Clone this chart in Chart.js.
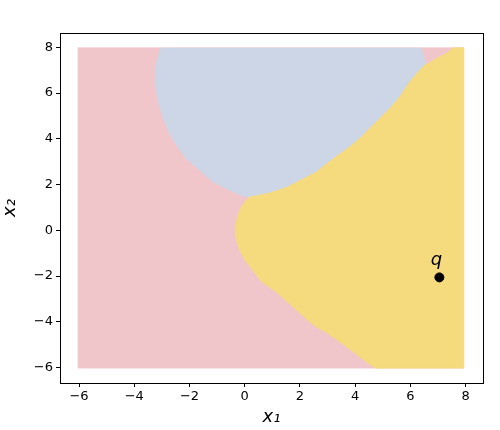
<!DOCTYPE html>
<html lang="en">
<head>
    <meta charset="UTF-8">
    <title>Decision regions</title>
    <script src="https://cdn.jsdelivr.net/npm/chart.js"></script>
    <style>
        body { margin: 0; background: #fff; }
        #box { width: 500px; height: 430px; }
    </style>
</head>
<body>
    <div id="box"><canvas id="myChart"></canvas></div>

<script>
    // dados (coordenadas x1, x2)
    var gridX = [-6.05, 7.93, 7.93, -6.05];
    var gridY = [-6.03, -6.03, 7.99, 7.99];

    var blueX = [-3.05, -3.21, -3.25, -3.15, -2.97, -2.73, -2.43, -2.12, -1.64, -1.16, -0.55, -0.07, 0.17,
        0.53, 0.89, 1.50, 1.98, 2.59, 3.19, 3.79, 4.22, 4.76, 5.24, 5.61, 5.97, 6.33, 6.57, 6.39];
    var blueY = [7.99, 7.29, 6.42, 5.69, 4.96, 4.23, 3.64, 3.14, 2.63, 2.12, 1.75, 1.49, 1.46,
        1.54, 1.63, 1.87, 2.17, 2.55, 3.12, 3.64, 4.08, 4.74, 5.32, 5.83, 6.49, 7.00, 7.29, 7.99];

    var yellowX = [0.17, 0.53, 0.89, 1.50, 1.98, 2.59, 3.19, 3.79, 4.22, 4.76, 5.24, 5.61, 5.97, 6.33, 6.57,
        6.63, 6.93, 7.30, 7.54, 7.93, 7.93, 4.76, 4.58, 4.09, 3.61, 3.01, 2.59, 2.28, 1.68, 1.14, 0.59, 0.47,
        0.17, 0.05, -0.13, -0.25, -0.34, -0.34, -0.25, -0.13, 0.05];
    var yellowY = [1.46, 1.54, 1.63, 1.87, 2.17, 2.55, 3.12, 3.64, 4.08, 4.74, 5.32, 5.83, 6.49, 7.00, 7.29,
        7.29, 7.51, 7.73, 7.99, 7.99, -6.03, -6.03, -5.91, -5.47, -5.03, -4.52, -4.23, -3.94, -3.28, -2.70, -2.23, -2.04,
        -1.55, -1.39, -1.02, -0.66, -0.22, 0.22, 0.66, 1.02, 1.31];

    var queryX = [7.05];
    var queryY = [-2.06];
    var queryLabel = ['q'];

    var tickValues = [-6, -4, -2, 0, 2, 4, 6, 8];

    function pontos(xs, ys) {
        var lista = [];
        for (var i = 0; i < xs.length; i++) {
            lista.push({ x: xs[i], y: ys[i] });
        }
        return lista;
    }

    // order maior = desenhado primeiro (fica por baixo)
    function regiao(xs, ys, cor, ordem) {
        return {
            type: 'line',
            data: pontos(xs, ys),
            showLine: true,
            fill: 'shape',
            backgroundColor: cor,
            borderColor: cor,
            borderWidth: 0.5,
            pointRadius: 0,
            tension: 0,
            order: ordem
        };
    }

    // moldura completa e rotulo do ponto q
    var molduraPlugin = {
        id: 'moldura',
        afterDatasetsDraw: function (chart) {
            var ctx = chart.ctx;
            var a = chart.chartArea;
            var sx = chart.scales.x, sy = chart.scales.y;
            ctx.save();
            ctx.font = 'italic 18px "DejaVu Sans"';
            ctx.fillStyle = 'black';
            ctx.textAlign = 'center';
            ctx.textBaseline = 'alphabetic';
            for (var i = 0; i < queryX.length; i++) {
                ctx.fillText(queryLabel[i], sx.getPixelForValue(queryX[i]) - 3, sy.getPixelForValue(queryY[i]) - 12);
            }
            ctx.strokeStyle = 'black';
            ctx.lineWidth = 1;
            ctx.strokeRect(Math.round(a.left) + 0.5, Math.round(a.top) + 0.5,
                Math.round(a.right - a.left), Math.round(a.bottom - a.top));
            ctx.restore();
        }
    };

    var fonteTicks = { family: '"DejaVu Sans"', size: 13 };

    var ctx = myChart.getContext('2d');
    window.myChart = new Chart(ctx, {
        type: 'scatter',
        data: {
            datasets: [
                regiao(gridX, gridY, 'rgb(240, 198, 203)', 4),
                regiao(blueX, blueY, 'rgb(205, 214, 230)', 3),
                regiao(yellowX, yellowY, 'rgb(245, 219, 125)', 2),
                {
                    type: 'scatter',
                    data: pontos(queryX, queryY),
                    backgroundColor: 'black',
                    borderColor: 'black',
                    pointRadius: 4.5,
                    order: 1
                }
            ]
        },
        options: {
            responsive: true,
            maintainAspectRatio: false,
            animation: false,
            layout: { padding: { top: 33, right: 17, left: 0, bottom: 0 } },
            plugins: {
                legend: { display: false },
                tooltip: { enabled: false }
            },
            scales: {
                x: {
                    type: 'linear',
                    min: -6.69,
                    max: 8.63,
                    afterFit: function (scale) { scale.height = 47; },
                    afterBuildTicks: function (scale) {
                        scale.ticks = tickValues.map(function (v) { return { value: v }; });
                    },
                    ticks: {
                        color: 'black',
                        font: fonteTicks,
                        padding: 2,
                        maxRotation: 0,
                        callback: function (v) { return String(v).replace('-', '\u2212'); }
                    },
                    grid: { drawOnChartArea: false, tickLength: 4, tickColor: 'black' },
                    border: { color: 'black', width: 1 },
                    title: {
                        display: true,
                        text: 'x\u2081',
                        color: 'black',
                        font: { family: '"DejaVu Sans"', size: 18, style: 'italic' },
                        padding: { top: 0, bottom: 2 }
                    }
                },
                y: {
                    type: 'linear',
                    min: -6.68,
                    max: 8.63,
                    afterFit: function (scale) { scale.width = 60; },
                    afterBuildTicks: function (scale) {
                        scale.ticks = tickValues.map(function (v) { return { value: v }; });
                    },
                    ticks: {
                        color: 'black',
                        font: fonteTicks,
                        padding: 3,
                        callback: function (v) { return String(v).replace('-', '\u2212'); }
                    },
                    grid: { drawOnChartArea: false, tickLength: 4, tickColor: 'black' },
                    border: { color: 'black', width: 1 },
                    title: {
                        display: true,
                        text: 'x\u2082',
                        color: 'black',
                        font: { family: '"DejaVu Sans"', size: 18, style: 'italic' },
                        padding: { top: 0, bottom: 3 }
                    }
                }
            }
        },
        plugins: [molduraPlugin]
    });
</script>
</body>
</html>
